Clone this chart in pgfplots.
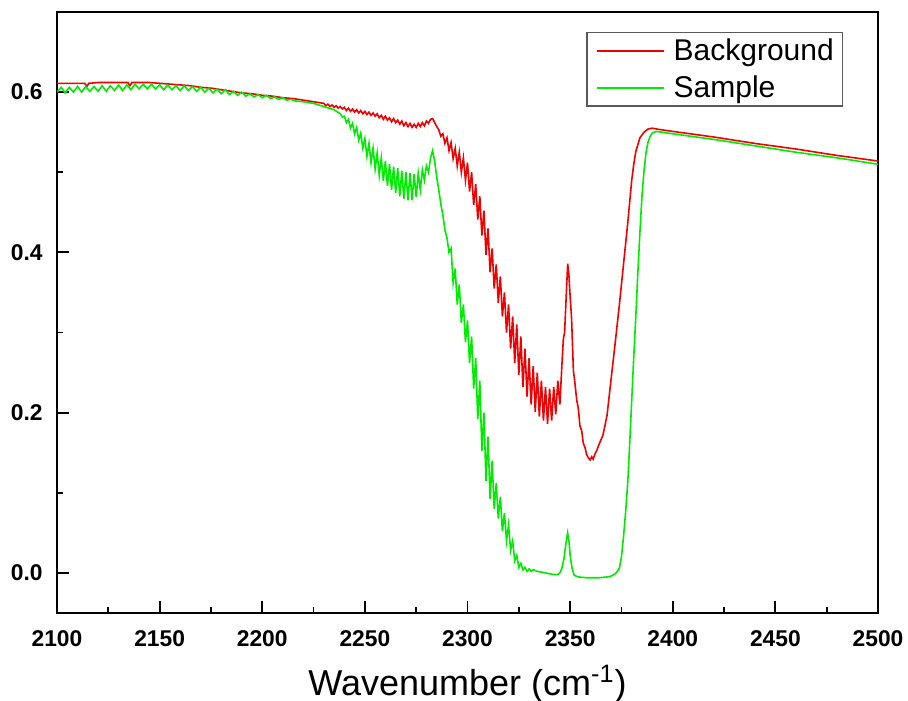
\documentclass[border=0pt]{standalone}
\usepackage{fontspec}
\setmainfont{Liberation Sans}
\usepackage{pgfplots}
\pgfplotsset{compat=1.18}
\definecolor{bgred}{RGB}{240,0,0}
\definecolor{smgreen}{RGB}{0,235,0}

\begin{document}
\begin{tikzpicture}
\useasboundingbox (0,0) rectangle (454pt,350pt);
\begin{axis}[
  at={(28.5pt,43.5pt)}, anchor=south west,
  scale only axis, width=410.5pt, height=300.5pt,
  xmin=2100, xmax=2500, ymin=-0.05, ymax=0.7,
  xtick={2100,2150,...,2500},
  xticklabels={2100,2150,2200,2250,2300,2350,2400,2450,2500},
  ytick={0,0.2,0.4,0.6}, yticklabels={0.0,0.2,0.4,0.6},
  minor x tick num=1, minor y tick num=1,
  tick align=inside, xtick pos=bottom, ytick pos=left,
  major tick length=6pt, minor tick length=3pt,
  axis line style={line width=1pt},
  every tick/.style={black, line width=0.9pt},
  xticklabel style={font=\fontsize{11.4}{13}\selectfont\bfseries, anchor=base, inner sep=0pt, yshift=-16.5pt},
  yticklabel style={font=\fontsize{11.4}{13}\selectfont\bfseries, anchor=east, inner sep=0pt, xshift=-7pt},
  xlabel={Wavenumber (cm\textsuperscript{-1})},
  xlabel style={font=\fontsize{18}{21}\selectfont, at={(axis description cs:0.5,0)}, anchor=base, yshift=-41pt},
  legend style={at={(1,1)}, anchor=north east, xshift=-17.5pt, yshift=-10pt,
    draw=black!65, line width=0.6pt, font=\fontsize{15}{18}\selectfont,
    inner xsep=4.3pt, inner ysep=3pt, row sep=6pt, column sep=4.5pt,
    nodes={inner sep=0pt}},
  legend cell align=left,
  legend image code/.code={\draw[#1, line width=1pt] (0pt,0pt) -- (33.5pt,0pt);},
]
% Background
\addplot[bgred, line width=0.8pt, mark=none] coordinates {
(2100,0.611) (2105,0.611) (2110,0.611) (2113.5,0.611) (2114.5,0.607) (2115.5,0.611)
(2120,0.612) (2125,0.612) (2130,0.612) (2134.5,0.612) (2135.5,0.608) (2136.5,0.612)
(2140,0.612) (2145,0.612) (2150,0.611) (2155,0.610) (2160,0.609) (2165,0.608)
(2170,0.606) (2175,0.605) (2180,0.603) (2185,0.601) (2190,0.599) (2195,0.598)
(2200,0.596) (2205,0.595) (2210,0.593) (2215,0.592) (2220,0.590) (2225,0.588)
(2230,0.586) (2231,0.583) (2232,0.585) (2233,0.582) (2234,0.584) (2235,0.581)
(2236,0.583) (2237,0.580) (2238,0.582) (2239,0.579) (2240,0.581) (2241,0.577)
(2242,0.580) (2243,0.576) (2244,0.579) (2245,0.575) (2246,0.578) (2247,0.574)
(2248,0.577) (2249,0.573) (2250,0.576) (2251,0.572) (2252,0.575) (2253,0.571)
(2254,0.574) (2255,0.570) (2256,0.573) (2257,0.568) (2258,0.571) (2259,0.566)
(2260,0.570) (2261,0.565) (2262,0.568) (2263,0.563) (2264,0.567) (2265,0.562)
(2266,0.565) (2267,0.560) (2268,0.564) (2269,0.558) (2270,0.562) (2271,0.557)
(2272,0.561) (2273,0.556) (2274,0.560) (2275,0.556) (2276,0.561) (2277,0.557)
(2278,0.562) (2279,0.558) (2280,0.564) (2281,0.561) (2282,0.566) (2283,0.567)
(2284,0.562) (2285,0.557) (2286,0.553) (2287,0.545)
(2288,0.548) (2289,0.536) (2290,0.543) (2291,0.527) (2292,0.537) (2293,0.517)
(2294,0.530) (2295,0.508) (2296,0.525) (2297,0.500) (2298,0.518) (2299,0.490)
(2300,0.512) (2301,0.476) (2302,0.500) (2303,0.459) (2304,0.485) (2305,0.441)
(2306,0.470) (2307,0.421) (2308,0.452) (2309,0.397) (2310,0.430) (2311,0.375)
(2312,0.405) (2313,0.355) (2314,0.385) (2315,0.337) (2316,0.370) (2317,0.320)
(2318,0.350) (2319,0.300) (2320,0.335) (2321,0.280) (2322,0.320) (2323,0.262)
(2324,0.310) (2325,0.247) (2326,0.295) (2327,0.232) (2328,0.280) (2329,0.220)
(2330,0.268) (2331,0.210) (2332,0.258) (2333,0.201) (2334,0.250) (2335,0.195)
(2336,0.240) (2337,0.190) (2338,0.232) (2339,0.186) (2340,0.230) (2341,0.190)
(2342,0.232) (2343,0.198) (2344,0.240) (2345,0.210) (2346,0.260) (2346.7,0.292)
(2347.3,0.300) (2348,0.340) (2348.8,0.386) (2349.4,0.372) (2350,0.345) (2350.7,0.318)
(2351.6,0.252) (2352.2,0.240) (2353.2,0.216) (2354,0.205) (2354.8,0.183) (2355.6,0.178)
(2356.4,0.162) (2357.3,0.156) (2358,0.148) (2358.8,0.144) (2359.7,0.141) (2360.5,0.145)
(2361.2,0.142) (2362,0.148) (2363,0.153) (2364,0.160) (2366,0.172) (2368,0.197)
(2370,0.243) (2372,0.288) (2374,0.335) (2376,0.385) (2378,0.435) (2380,0.490)
(2381,0.510) (2382,0.526) (2384,0.543) (2386,0.550) (2388,0.554) (2390,0.555)
(2392,0.554) (2400,0.551) (2420,0.544) (2440,0.536) (2460,0.529) (2480,0.521)
(2500,0.514)
};
\addlegendentry{Background}
% Sample
\addplot[smgreen, line width=0.8pt, mark=none] coordinates {
(2100,0.600) (2102,0.606) (2104,0.599) (2106,0.606) (2108,0.600) (2110,0.607)
(2112,0.600) (2114,0.607) (2116,0.601) (2118,0.607) (2120,0.601) (2122,0.608)
(2124,0.601) (2126,0.608) (2128,0.602) (2130,0.609) (2132,0.602) (2134,0.609)
(2136,0.603) (2138,0.610) (2140,0.604) (2142,0.610) (2144,0.604) (2146,0.610)
(2148,0.604) (2150,0.609) (2152,0.603) (2154,0.609) (2156,0.603) (2158,0.608)
(2160,0.602) (2162,0.608) (2164,0.602) (2166,0.607) (2168,0.601) (2170,0.606)
(2172,0.600) (2174,0.605) (2176,0.599) (2178,0.604) (2180,0.598) (2182,0.603)
(2184,0.597) (2186,0.601) (2188,0.596) (2190,0.600) (2192,0.595) (2194,0.598)
(2196,0.594) (2198,0.597) (2200,0.593) (2202,0.596) (2204,0.592) (2206,0.594)
(2208,0.591) (2210,0.593) (2212,0.590) (2214,0.591) (2216,0.589) (2220,0.588)
(2225,0.586) (2230,0.582) (2235,0.578)
(2238,0.573) (2239,0.569) (2240,0.570) (2241,0.562) (2242,0.566) (2243,0.555)
(2244,0.561) (2245,0.548) (2246,0.556) (2247,0.540) (2248,0.549) (2249,0.530)
(2250,0.542) (2251,0.520) (2252,0.536) (2253,0.512) (2254,0.530) (2255,0.504)
(2256,0.524) (2257,0.496) (2258,0.518) (2259,0.489) (2260,0.514) (2261,0.483)
(2262,0.510) (2263,0.478) (2264,0.507) (2265,0.474) (2266,0.505) (2267,0.470)
(2268,0.502) (2269,0.467) (2270,0.500) (2271,0.465) (2272,0.499) (2273,0.465)
(2274,0.498) (2275,0.469) (2276,0.499) (2277,0.478) (2278,0.503) (2279,0.490)
(2280,0.508) (2281,0.500) (2282,0.518) (2283,0.527) (2284,0.514) (2285,0.494)
(2286,0.478) (2287,0.460) (2288,0.447) (2289,0.428) (2290,0.418) (2291,0.400)
(2292,0.405) (2293,0.362) (2294,0.380) (2295,0.335) (2296,0.360) (2297,0.312)
(2298,0.335) (2299,0.288) (2300,0.315) (2301,0.262) (2302,0.295) (2303,0.230)
(2304,0.268) (2305,0.192) (2306,0.240) (2307,0.152) (2308,0.200) (2309,0.115)
(2310,0.170) (2311,0.092) (2312,0.140) (2313,0.080) (2314,0.112) (2315,0.068)
(2316,0.095) (2317,0.052) (2318,0.075) (2319,0.040) (2320,0.060) (2321,0.028)
(2322,0.040) (2323,0.015) (2324,0.022) (2325,0.007) (2326,0.012) (2327,0.004)
(2328,0.007) (2329,0.002) (2330,0.005) (2331,0.002) (2332,0.004) (2334,0.002)
(2336,0.001) (2338,0.000) (2340,-0.001) (2342,-0.002) (2344,-0.002) (2345,0.000)
(2346,0.006) (2347,0.018) (2348,0.038) (2348.8,0.050) (2349.5,0.038) (2350,0.022)
(2351,0.005) (2352,-0.003) (2354,-0.005) (2358,-0.006) (2364,-0.006) (2368,-0.005)
(2370,-0.004) (2372,-0.001) (2373,0.002) (2374,0.006) (2375,0.020) (2376,0.045)
(2377,0.075) (2378,0.110) (2379,0.160) (2380,0.215) (2381,0.270) (2382,0.320)
(2383,0.375) (2384,0.425) (2385,0.470) (2386,0.502) (2387,0.525) (2388,0.538)
(2389,0.545) (2390,0.549) (2392,0.551) (2400,0.548) (2420,0.541) (2440,0.533)
(2460,0.525) (2480,0.518) (2500,0.510)
};
\addlegendentry{Sample}
\end{axis}
\end{tikzpicture}
\end{document}
